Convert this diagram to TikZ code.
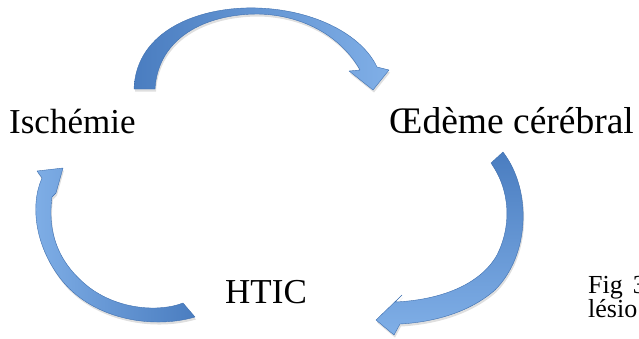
\documentclass[tikz,border=0pt]{standalone}
\usepackage{fontspec}
\setmainfont{Liberation Serif}
\usetikzlibrary{calc}
\usetikzlibrary{positioning}
\usetikzlibrary{shadows}
\definecolor{arrowdark}{HTML}{4A7DC0}
\definecolor{arrowlight}{HTML}{80AFE7}
\definecolor{arrowedge}{HTML}{3E6FAF}
\tikzset{
  cyclearrow/.style={draw=arrowedge, line width=.4pt, line join=round,
    drop shadow={shadow xshift=1pt, shadow yshift=-2.5pt, opacity=.25}},
  stage/.style={inner sep=0pt, anchor=base west, font=\fontsize{35}{42}\selectfont},
  caption/.style={inner sep=0pt, anchor=base west, font=\fontsize{26}{30}\selectfont}
}

\begin{document}
\begin{tikzpicture}[x=1pt, y=-1pt]
  \useasboundingbox (0,0) rectangle (639,338);

  \node [stage] (ischemie) at (9,133) {Ischémie};
  \node [stage, font=\fontsize{37.5}{44}\selectfont] (oedeme) at (389,133) {Œdème cérébral};
  \node [stage] (htic) at (225,303) {HTIC};
  \node [caption] (fig) at (588,293) {Fig\hspace{10pt}3};
  \node [caption] (lesion) at (588,317) {lésio};

  % ischemie -> oedeme
  \path [cyclearrow, left color=arrowdark, right color=arrowlight]
    (134,89) .. controls (136,30) and (200,6) .. (258,8)
    .. controls (315,10) and (362,35) .. (377,67)
    -- (389,70) -- (373,90) -- (349,71) -- (360,70)
    .. controls (342,38) and (305,15) .. (258,14)
    .. controls (205,14) and (158,38) .. (155,89) -- cycle;

  % oedeme -> htic
  \path [cyclearrow, top color=arrowdark, bottom color=arrowlight]
    (503,152) .. controls (532,190) and (530,255) .. (495,290)
    .. controls (470,312) and (435,322) .. (400,324)
    -- (394,335) -- (376,320) -- (402,295) -- (395,302)
    .. controls (440,300) and (480,285) .. (497,255)
    .. controls (512,225) and (510,190) .. (491,163) -- cycle;

  % htic -> ischemie
  \path [cyclearrow, right color=arrowdark, left color=arrowlight]
    (195,317) .. controls (150,330) and (90,318) .. (60,278)
    .. controls (35,245) and (30,205) .. (42,178)
    -- (37,171) -- (63,168) -- (56,193) -- (52,197)
    .. controls (47,235) and (60,265) .. (90,288)
    .. controls (120,310) and (160,312) .. (183,303) -- cycle;

\end{tikzpicture}
\end{document}
